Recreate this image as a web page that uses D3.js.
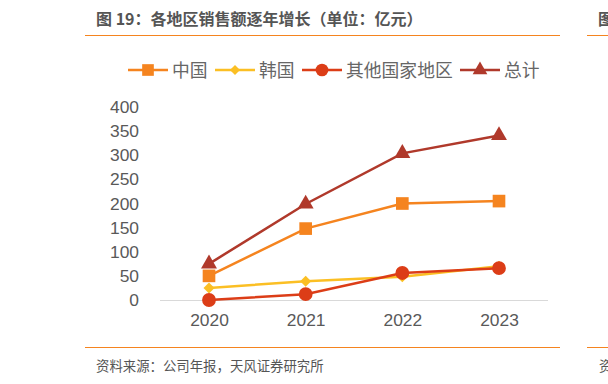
<!DOCTYPE html>
<html>
<head>
<meta charset="utf-8">
<script src="https://cdn.jsdelivr.net/npm/d3@7"></script>
<style>
  body { margin: 0; background: #fff; }
  svg { display: block; font-family: "Noto Sans CJK SC", "Liberation Sans", sans-serif; }
</style>
</head>
<body>
<svg id="chart" width="608" height="384"></svg>
<script>
var years = ['2020', '2021', '2022', '2023']
var china = [50, 148, 200, 205]
var korea = [25, 39, 48, 70]
var others = [0, 12, 56, 66]
var total = [75, 199, 304, 341]
var yTicks = [0, 50, 100, 150, 200, 250, 300, 350, 400]

// diamond drawn as a rotated square (d3's own diamond is too tall)
var squareDiamond = {
    draw: function(context, size) {
        var r = Math.sqrt(size / 2)
        context.moveTo(0, -r)
        context.lineTo(r, 0)
        context.lineTo(0, r)
        context.lineTo(-r, 0)
        context.closePath()
    }
}

var series = [
    { name: '中国', values: china, color: '#F5841F', symbol: d3.symbolSquare, size: 160 },
    { name: '韩国', values: korea, color: '#FBBF24', symbol: squareDiamond, size: 60 },
    { name: '其他国家地区', values: others, color: '#DC3D17', symbol: d3.symbolCircle, size: 150 },
    { name: '总计', values: total, color: '#B0392B', symbol: d3.symbolTriangle, size: 110 }
]

var svg = d3.select('#chart')

// title + rules
svg.append('text')
    .attr('x', 96).attr('y', 25)
    .attr('font-size', 16).attr('font-weight', 'bold')
    .attr('fill', '#555')
    .text('图 19：各地区销售额逐年增长（单位：亿元）')
svg.append('text')
    .attr('x', 598).attr('y', 25)
    .attr('font-size', 16).attr('font-weight', 'bold')
    .attr('fill', '#555')
    .text('图')
svg.append('line').attr('x1', 85).attr('x2', 560).attr('y1', 35.5).attr('y2', 35.5)
    .attr('stroke', '#F5841F').attr('stroke-width', 1)
svg.append('line').attr('x1', 587).attr('x2', 608).attr('y1', 35.5).attr('y2', 35.5)
    .attr('stroke', '#F5841F').attr('stroke-width', 1)
svg.append('line').attr('x1', 85).attr('x2', 560).attr('y1', 347.5).attr('y2', 347.5)
    .attr('stroke', '#F5841F').attr('stroke-width', 1)
svg.append('line').attr('x1', 587).attr('x2', 608).attr('y1', 347.5).attr('y2', 347.5)
    .attr('stroke', '#F5841F').attr('stroke-width', 1)
svg.append('text')
    .attr('x', 96).attr('y', 371)
    .attr('font-size', 13.4).attr('fill', '#555')
    .text('资料来源：公司年报，天风证券研究所')
svg.append('text')
    .attr('x', 599).attr('y', 371)
    .attr('font-size', 13.4).attr('fill', '#555')
    .text('资')

// scales
var x = d3.scalePoint().domain(years).range([209, 499])
var y = d3.scaleLinear().domain([0, 400]).range([300, 107])

// y axis labels
var yAxis = d3.axisLeft(y).tickValues(yTicks).tickSize(0).tickPadding(0)
var gy = svg.append('g').attr('transform', 'translate(139,0)').call(yAxis)
gy.select('.domain').remove()
gy.selectAll('text').attr('font-size', 17.4).attr('fill', '#595959')
    .attr('font-family', '"Liberation Sans", sans-serif')

// baseline
svg.append('line').attr('x1', 160).attr('x2', 548).attr('y1', y(0) + 0.5).attr('y2', y(0) + 0.5)
    .attr('stroke', '#D9D9D9').attr('stroke-width', 1)

// x axis labels
var xAxis = d3.axisBottom(x).tickSize(0).tickPadding(14)
var gx = svg.append('g').attr('transform', 'translate(0,' + y(0) + ')').call(xAxis)
gx.select('.domain').remove()
gx.selectAll('text').attr('font-size', 17.4).attr('fill', '#595959')
    .attr('font-family', '"Liberation Sans", sans-serif')

// lines + markers
var line = d3.line().x(function(d, i) { return x(years[i]) }).y(function(d) { return y(d) })
series.forEach(function(s) {
    svg.append('path')
        .attr('d', line(s.values))
        .attr('fill', 'none')
        .attr('stroke', s.color)
        .attr('stroke-width', 2.5)
    svg.selectAll(null)
        .data(s.values)
        .enter()
        .append('path')
        .attr('d', d3.symbol().type(s.symbol).size(s.size))
        .attr('transform', function(d, i) { return 'translate(' + x(years[i]) + ',' + y(d) + ')' })
        .attr('fill', s.color)
})

// legend
var legendX = [128, 215, 302, 460]
var legend = svg.selectAll('.legend-item')
    .data(series)
    .enter()
    .append('g')
    .attr('class', 'legend-item')
    .attr('transform', function(d, i) { return 'translate(' + legendX[i] + ',70)' })
legend.append('line')
    .attr('x1', 0).attr('x2', 40)
    .attr('stroke', function(d) { return d.color })
    .attr('stroke-width', 2.5)
legend.append('path')
    .attr('d', function(d) { return d3.symbol().type(d.symbol).size(d.size * 0.85)() })
    .attr('transform', 'translate(20,0)')
    .attr('fill', function(d) { return d.color })
legend.append('text')
    .attr('x', 44).attr('y', 6.5)
    .attr('font-size', 17.8).attr('fill', '#666')
    .text(function(d) { return d.name })
</script>
</body>
</html>
